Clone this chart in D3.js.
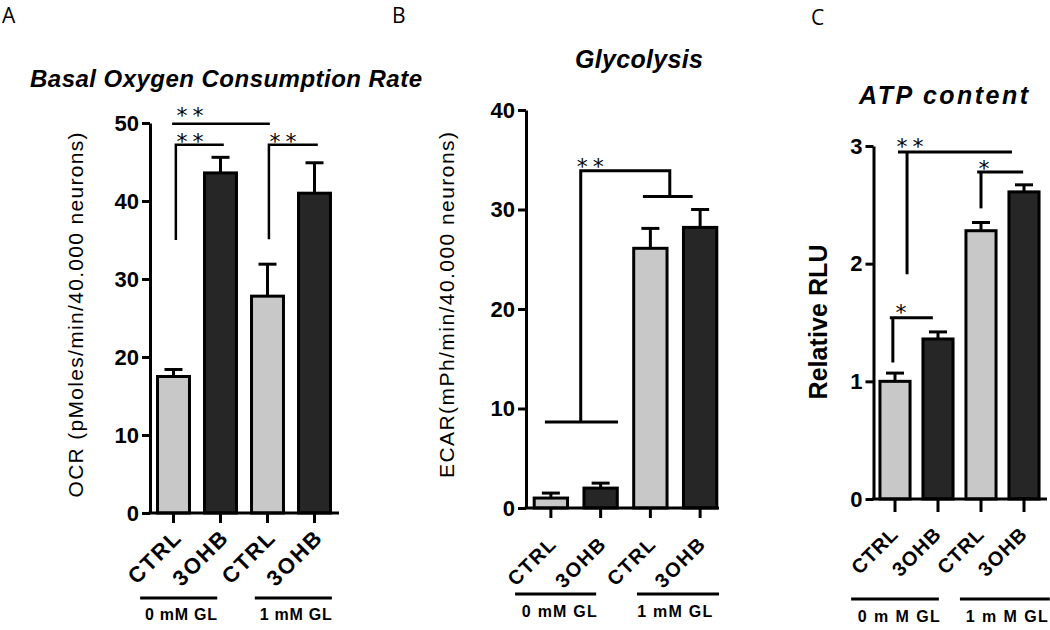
<!DOCTYPE html>
<html><head><meta charset="utf-8">
<script src="https://cdn.jsdelivr.net/npm/d3@7"></script>
<style>body{margin:0;background:#fff}svg{display:block}</style>
</head><body><svg id="c" width="1050" height="630"></svg>
<script>
// ---------- data ----------
const categories = ["CTRL", "3OHB", "CTRL", "3OHB"];
const groupsAB = ["0 mM GL", "1 mM GL"];
const groupsC = ["0 m M GL", "1 m M GL"];
const ocrMean = [17.5, 43.6, 27.8, 41.0];
const ocrSem  = [0.9, 2.0, 4.1, 3.9];
const ecarMean = [1.0, 2.0, 26.1, 28.2];
const ecarSem  = [0.5, 0.5, 2.0, 1.8];
const atpMean = [1.0, 1.36, 2.28, 2.61];
const atpSem  = [0.07, 0.06, 0.07, 0.06];
const ocrTicks = [0, 10, 20, 30, 40, 50];
const ecarTicks = [0, 10, 20, 30, 40];
const atpTicks = [0, 1, 2, 3];
const titles = ["Basal Oxygen Consumption Rate", "Glycolysis", "ATP content"];
const yLabels = ["OCR (pMoles/min/40.000 neurons)", "ECAR(mPh/min/40.000 neurons)", "Relative RLU"];
const panelLetters = ["A", "B", "C"];
// significance brackets: polylines in [category index, value]
const sigA = [
  [[-0.03, 49.9], [2.05, 49.9]],
  [[0.05, 35.0], [0.05, 47.2], [1.07, 47.2]],
  [[2.03, 35.1], [2.03, 47.2], [3.07, 47.2]]
];
const starsA = [{i: 0.35, v: 49.9, t: "**", dy: -0.5}, {i: 0.35, v: 47.2, t: "**", dy: 4.5}, {i: 2.33, v: 47.2, t: "**", dy: 4.5}];
const sigB = [
  [[-0.12, 8.64], [1.35, 8.64]],
  [[0.6, 8.64], [0.6, 33.9], [2.39, 33.9], [2.39, 31.3]],
  [[1.85, 31.3], [2.85, 31.3]]
];
const starsB = [{i: 0.79, v: 33.9, t: "**", dy: 3}];
const sigC = [
  [[0.07, 2.95], [2.72, 2.95]],
  [[0.28, 2.95], [0.28, 1.91]],
  [[1.91, 2.78], [2.98, 2.78]],
  [[2.0, 2.78], [2.0, 2.47]],
  [[-0.12, 1.54], [0.88, 1.54]],
  [[-0.05, 1.54], [-0.05, 1.16]]
];
const starsC = [{i: 0.35, v: 2.95, t: "**", dy: 2}, {i: 2.07, v: 2.78, t: "*", dy: 4}, {i: 0.14, v: 1.54, t: "*", dy: 2}];
const fills = ["#c8c8c8", "#262626", "#c8c8c8", "#262626"];

// ---------- drawing ----------
const svg = d3.select("#c");
const FONT = "'Liberation Sans', Arial, Helvetica, sans-serif";

function panel(cfg) {
  const g = svg.append("g");
  const x = d3.scaleBand().domain(d3.range(categories.length))
    .range([cfg.x0, cfg.x1]).paddingInner(cfg.pad).paddingOuter(cfg.pad / 2);
  const xc = i => x(0) + x.bandwidth() / 2 + i * x.step();
  const y = d3.scaleLinear().domain([0, cfg.max]).range([cfg.y0, cfg.yTop]);

  // error bars
  const eb = g.append("g").attr("stroke", "#000").attr("stroke-width", 3);
  cfg.mean.forEach((m, i) => {
    const cx = xc(i), top = y(m + cfg.sem[i]);
    eb.append("line").attr("x1", cx).attr("x2", cx).attr("y1", y(m)).attr("y2", top);
    eb.append("line").attr("x1", cx - 9).attr("x2", cx + 9).attr("y1", top).attr("y2", top);
  });
  // bars
  g.selectAll("rect.bar").data(cfg.mean).join("rect").attr("class", "bar")
    .attr("x", (d, i) => x(i)).attr("y", d => y(d))
    .attr("width", x.bandwidth()).attr("height", d => cfg.y0 - y(d))
    .attr("fill", (d, i) => fills[i]).attr("stroke", "#000").attr("stroke-width", 3);

  // y axis
  const ya = g.append("g").attr("transform", `translate(${cfg.x0},0)`)
    .call(d3.axisLeft(y).tickValues(cfg.ticks).tickFormat(d3.format("d"))
      .tickSize(8).tickSizeOuter(0).tickPadding(3));
  ya.select(".domain").attr("stroke", "#000").attr("stroke-width", 3);
  ya.selectAll(".tick line").attr("stroke", "#000").attr("stroke-width", 3);
  ya.selectAll(".tick text").attr("font-size", 22).attr("font-weight", "bold")
    .attr("font-family", FONT).attr("fill", "#000");

  // x axis
  const xa = g.append("g").attr("transform", `translate(0,${cfg.y0})`)
    .call(d3.axisBottom(x).tickSize(cfg.xTick).tickSizeOuter(0).tickFormat(""));
  xa.select(".domain").remove();
  xa.selectAll(".tick line").attr("stroke", "#000").attr("stroke-width", 3);
  g.append("line").attr("x1", cfg.x0 - 1.5).attr("x2", cfg.xEnd)
    .attr("y1", cfg.y0).attr("y2", cfg.y0).attr("stroke", "#000").attr("stroke-width", 3);

  // x labels (rotated)
  categories.forEach((c, i) => {
    const ax = xc(i) + cfg.xl.dx, ay = cfg.y0 + cfg.xl.dy;
    g.append("text").text(c)
      .attr("transform", `translate(${ax},${ay}) rotate(-45)`)
      .attr("text-anchor", "end").attr("font-family", FONT).attr("font-weight", "bold")
      .attr("font-size", cfg.xl.size).attr("textLength", cfg.xl.len[i % 2])
      .attr("lengthAdjust", "spacing");
  });

  // group lines + labels
  cfg.groups.forEach((lab, k) => {
    const [a, b] = cfg.gl[k];
    g.append("line").attr("x1", xc(a)).attr("x2", xc(b)).attr("y1", cfg.glY).attr("y2", cfg.glY)
      .attr("stroke", "#000").attr("stroke-width", 3);
    g.append("text").text(lab).attr("x", xc(cfg.gt[k])).attr("y", cfg.gtY)
      .attr("text-anchor", "middle").attr("font-family", FONT).attr("font-weight", "bold")
      .attr("font-size", 16).attr("textLength", cfg.gtLen).attr("lengthAdjust", "spacing");
  });

  // significance brackets
  const line = d3.line().x(p => xc(p[0])).y(p => y(p[1]));
  cfg.sig.forEach(pts => {
    g.append("path").attr("d", line(pts)).attr("fill", "none")
      .attr("stroke", "#000").attr("stroke-width", cfg.sigW);
  });
  cfg.stars.forEach(s => {
    const t = g.append("text").text(s.t).attr("x", xc(s.i)).attr("y", y(s.v) + s.dy)
      .attr("text-anchor", "middle").attr("font-family", "'DejaVu Sans', sans-serif")
      .attr("font-size", 22);
    if (s.t.length > 1) t.attr("textLength", 27).attr("lengthAdjust", "spacing");
  });

  // title
  svg.append("text").text(cfg.title.t).attr("x", cfg.title.x).attr("y", cfg.title.y)
    .attr("text-anchor", "middle").attr("font-family", FONT).attr("font-weight", "bold")
    .attr("font-style", "italic").attr("font-size", cfg.title.size)
    .attr("textLength", cfg.title.len).attr("lengthAdjust", "spacing");
  // y label
  svg.append("text").text(cfg.yl.t)
    .attr("transform", `translate(${cfg.yl.x},${cfg.yl.y}) rotate(-90)`)
    .attr("text-anchor", "middle").attr("font-family", FONT).attr("font-weight", cfg.yl.weight)
    .attr("font-size", cfg.yl.size).attr("textLength", cfg.yl.len).attr("lengthAdjust", "spacing");
  // panel letter
  svg.append("text").text(cfg.letter.t).attr("x", cfg.letter.x).attr("y", cfg.letter.y)
    .attr("font-family", "'Open Sans', " + FONT).attr("font-size", 21);
}

panel({
  x0: 150, x1: 338, xEnd: 339, y0: 513, yTop: 123, max: 50, pad: 0.32,
  ticks: ocrTicks, mean: ocrMean, sem: ocrSem, xTick: 10,
  xl: {size: 22, len: [64, 67], dx: 8.5, dy: 27},
  groups: groupsAB, gl: [[-0.71, 0.93], [1.73, 3.37]], glY: 598, gt: [0.16, 2.6], gtY: 620, gtLen: 72,
  sig: sigA, stars: starsA, sigW: 2.5,
  title: {t: titles[0], x: 226, y: 87, size: 24, len: 392},
  yl: {t: yLabels[0], x: 83, y: 315, size: 21, len: 365, weight: "normal"},
  letter: {t: panelLetters[0], x: 2, y: 23}
});
panel({
  x0: 526, x1: 725, xEnd: 719, y0: 508, yTop: 110, max: 40, pad: 0.33,
  ticks: ecarTicks, mean: ecarMean, sem: ecarSem, xTick: 10,
  xl: {size: 20, len: [58, 61], dx: 6, dy: 38},
  groups: groupsAB, gl: [[-0.72, 0.91], [1.73, 3.38]], glY: 594, gt: [0.17, 2.49], gtY: 617, gtLen: 75,
  sig: sigB, stars: starsB, sigW: 3,
  title: {t: titles[1], x: 639, y: 68, size: 25, len: 128},
  yl: {t: yLabels[1], x: 454, y: 305, size: 21, len: 346, weight: "normal"},
  letter: {t: panelLetters[1], x: 392, y: 23}
});
panel({
  x0: 873.5, x1: 1045.5, xEnd: 1047, y0: 499, yTop: 146, max: 3, pad: 0.3,
  ticks: atpTicks, mean: atpMean, sem: atpSem, xTick: 13,
  xl: {size: 20, len: [56, 59], dx: 4, dy: 37},
  groups: groupsC, gl: [[-1.02, 1.02], [1.51, 3.6]], glY: 599, gt: [0.09, 2.6], gtY: 622, gtLen: 82,
  sig: sigC, stars: starsC, sigW: 3,
  title: {t: titles[2], x: 943.5, y: 104, size: 25, len: 169},
  yl: {t: yLabels[2], x: 827, y: 322, size: 25, len: 155, weight: "bold"},
  letter: {t: panelLetters[2], x: 811, y: 25}
});
</script>
</body></html>
